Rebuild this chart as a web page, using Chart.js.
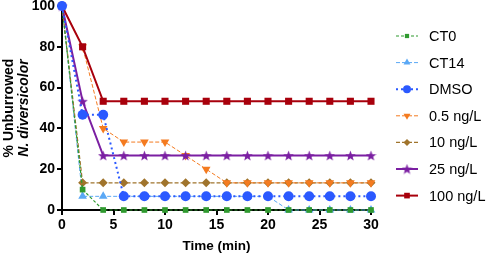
<!DOCTYPE html>
<html>
<head>
<meta charset="utf-8">
<script src="https://cdn.jsdelivr.net/npm/chart.js@4/dist/chart.umd.min.js"></script>
<style>
  html, body { margin: 0; padding: 0; background: #fff; }
  #wrap { width: 498px; height: 254px; }
</style>
</head>
<body>
<div id="wrap"><canvas id="myChart" width="498" height="254"></canvas></div>
<script>
// time points (min)
const times = [0, 2, 4, 6, 8, 10, 12, 14, 16, 18, 20, 22, 24, 26, 28, 30];

// % unburrowed per group
const ct0    = [100, 10, 0, 0, 0, 0, 0, 0, 0, 0, 0, 0, 0, 0, 0, 0];
const ct14   = [100, 6.7, 6.7, 6.7, 6.7, 6.7, 6.7, 6.7, 6.7, 6.7, 6.7, 0, 0, 0, 0, 0];
const dmso   = [100, 46.7, 46.7, 6.7, 6.7, 6.7, 6.7, 6.7, 6.7, 6.7, 6.7, 6.7, 6.7, 6.7, 6.7, 6.7];
const ng05   = [100, 80, 40, 33.3, 33.3, 33.3, 26.7, 20, 13.3, 13.3, 13.3, 13.3, 13.3, 13.3, 13.3, 13.3];
const ng10   = [100, 13.3, 13.3, 13.3, 13.3, 13.3, 13.3, 13.3, 13.3, 13.3, 13.3, 13.3, 13.3, 13.3, 13.3, 13.3];
const ng25   = [100, 53.3, 26.7, 26.7, 26.7, 26.7, 26.7, 26.7, 26.7, 26.7, 26.7, 26.7, 26.7, 26.7, 26.7, 26.7];
const ng100  = [100, 80, 53.3, 53.3, 53.3, 53.3, 53.3, 53.3, 53.3, 53.3, 53.3, 53.3, 53.3, 53.3, 53.3, 53.3];

const xTicks = [0, 5, 10, 15, 20, 25, 30];
const yTicks = [0, 20, 40, 60, 80, 100];

// filled star marker (Chart.js 'star' is only an outline)
function makeStar(color, size) {
  let c = document.createElement('canvas');
  c.width = size; c.height = size;
  let g = c.getContext('2d');
  let cx = size / 2, cy = size / 2 + 0.5, R = size / 2, r = R * 0.42;
  g.beginPath();
  for (let i = 0; i < 10; i++) {
    let a = -Math.PI / 2 + i * Math.PI / 5;
    let rad = i % 2 ? r : R;
    g.lineTo(cx + rad * Math.cos(a), cy + rad * Math.sin(a));
  }
  g.closePath();
  g.fillStyle = color;
  g.fill();
  return c;
}
const starImg = makeStar('#7b1fa2', 11);

function pts(vals) {
  return times.map((t, i) => ({ x: t, y: vals[i] }));
}

const series = [
  { label: 'CT0', data: ct0, color: '#2f9a2f', dash: [3, 2], width: 1.2, style: 'rect', radius: 4, rot: 0, order: 1 },
  { label: 'CT14', data: ct14, color: '#5aa8f5', dash: [4, 2], width: 1, style: 'triangle', radius: 5, rot: 0, order: 7 },
  { label: 'DMSO', data: dmso, color: '#2b59ff', dash: [2, 3], width: 2, style: 'circle', radius: 5, rot: 0, order: 0 },
  { label: '0.5 ng/L', data: ng05, color: '#f47b20', dash: [4, 2], width: 1, style: 'triangle', radius: 5, rot: 180, order: 4 },
  { label: '10 ng/L', data: ng10, color: '#a0742c', dash: [4, 2], width: 1.2, style: 'rectRot', radius: 4.5, rot: 0, order: 5 },
  { label: '25 ng/L', data: ng25, color: '#7b1fa2', dash: [], width: 2, style: starImg, radius: 5, rot: 0, order: 3 },
  { label: '100 ng/L', data: ng100, color: '#a8000c', dash: [], width: 2, style: 'rect', radius: 5, rot: 0, order: 2 }
];

const legendPlugin = {
  id: 'sideLegend',
  afterDraw(chart) {
    const ctx = chart.ctx;
    ctx.save();
    series.forEach((s, i) => {
      let y = 36 + i * 26.6;
      ctx.strokeStyle = s.color;
      ctx.lineWidth = s.width;
      ctx.setLineDash(s.dash);
      ctx.beginPath();
      ctx.moveTo(396, y);
      ctx.lineTo(418, y);
      ctx.stroke();
      ctx.setLineDash([]);
      ctx.fillStyle = s.color;
      Chart.helpers.drawPoint(ctx, { pointStyle: s.style, radius: s.radius - 1, rotation: s.rot, borderWidth: 0 }, 407, y);
      ctx.fillStyle = '#000';
      ctx.font = '14.5px "Liberation Sans", Arial, sans-serif';
      ctx.textAlign = 'left';
      ctx.textBaseline = 'middle';
      ctx.fillText(s.label, 429, y + 1);
    });

    // y axis title (two lines, second one italic)
    ctx.translate(0, 108);
    ctx.rotate(-Math.PI / 2);
    ctx.textAlign = 'center';
    ctx.textBaseline = 'middle';
    ctx.font = 'bold 14px "Liberation Sans", Arial, sans-serif';
    ctx.fillText('% Unburrowed', 0, 9);
    ctx.font = 'italic bold 14px "Liberation Sans", Arial, sans-serif';
    ctx.fillText('N. diversicolor', 0, 24);
    ctx.restore();
  }
};

const ctx = document.getElementById('myChart').getContext('2d');
const myChart = new Chart(ctx, {
  type: 'line',
  data: {
    datasets: series.map(s => ({
      label: s.label,
      data: pts(s.data),
      borderColor: s.color,
      backgroundColor: s.color,
      borderWidth: s.width,
      borderDash: s.dash,
      pointStyle: s.style,
      pointRadius: s.radius,
      pointRotation: s.rot,
      pointBorderWidth: 0,
      pointBackgroundColor: s.color,
      tension: 0,
      clip: false,
      order: s.order
    }))
  },
  options: {
    responsive: false,
    animation: false,
    layout: { padding: { top: 6, right: 127, left: 0, bottom: 0 } },
    plugins: {
      legend: { display: false },
      tooltip: { enabled: false }
    },
    scales: {
      x: {
        type: 'linear',
        min: 0,
        max: 30,
        afterFit: s => { s.height = 44; s.paddingRight = 0; s.paddingLeft = 0; },
        afterBuildTicks: s => { s.ticks = xTicks.map(v => ({ value: v })); },
        grid: { display: true, drawOnChartArea: false, drawTicks: true, tickLength: 5, color: '#000', lineWidth: 2 },
        border: { color: '#000', width: 2 },
        ticks: { color: '#000', padding: 2, maxRotation: 0, font: { family: '"Liberation Sans", Arial, sans-serif', size: 14, weight: 'bold' } },
        title: {
          display: true,
          text: 'Time (min)',
          color: '#000',
          padding: { top: 6, bottom: 0 },
          font: { family: '"Liberation Sans", Arial, sans-serif', size: 13.5, weight: 'bold' }
        }
      },
      y: {
        min: 0,
        max: 100,
        afterFit: s => { s.width = 62; s.paddingTop = 0; s.paddingBottom = 0; },
        afterBuildTicks: s => { s.ticks = yTicks.map(v => ({ value: v })); },
        grid: { display: true, drawOnChartArea: false, drawTicks: true, tickLength: 5, color: '#000', lineWidth: 2 },
        border: { color: '#000', width: 2 },
        ticks: { color: '#000', padding: 2, font: { family: '"Liberation Sans", Arial, sans-serif', size: 14, weight: 'bold' } }
      }
    }
  },
  plugins: [legendPlugin]
});
</script>
</body>
</html>
